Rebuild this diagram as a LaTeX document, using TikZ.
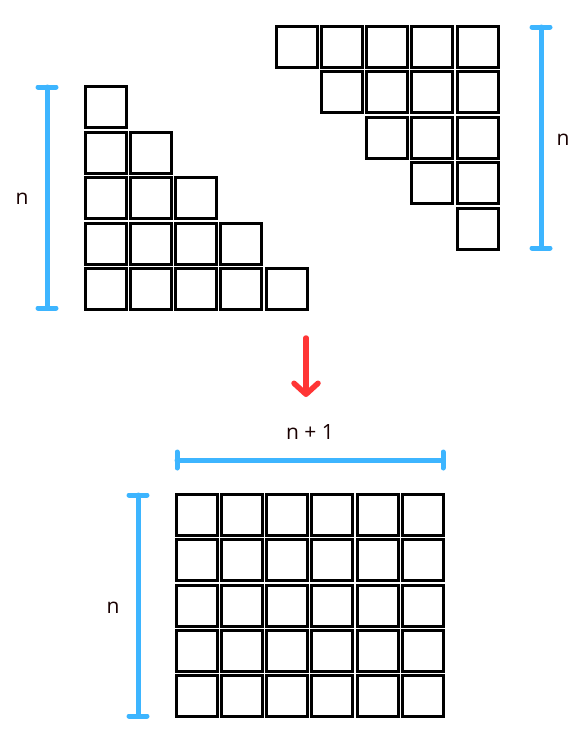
\documentclass[tikz,border=0pt]{standalone}
\usepackage{fontspec}
\setmainfont{Open Sans}
\usepackage{tikz}
\usetikzlibrary{arrows.meta}
\definecolor{BarBlue}{HTML}{3DB5FF}
\definecolor{ArrowRed}{HTML}{FF3535}
\tikzset{
  % Square styles
  cell/.style={rectangle, draw=black, line width=3pt, minimum size=41pt, inner sep=0pt, outer sep=0pt},
  % Bar styles
  dimbar/.style={BarBlue, line width=5pt, line cap=round},
  % Arrow styles
  redarrow/.style={-{Straight Barb[length=11pt, width=24pt, round]}, ArrowRed, line width=5.5pt, line cap=round},
  % Label styles
  dimlabel/.style={font=\fontsize{21}{25}\selectfont, text=black!90!red}
}
\begin{document}
\begin{tikzpicture}[x=1pt, y=-1pt]
  \useasboundingbox (0,0) rectangle (587,744);

  % left staircase
  \foreach \r in {0,...,4}
    \foreach \c in {0,...,\r}
      \node[cell] (left-\r-\c) at ({105.5+45.3*\c}, {107+45.5*\r}) {};

  % right staircase
  \foreach \r in {0,...,4}
    \foreach \c in {\r,...,4}
      \node[cell] (right-\r-\c) at ({296.5+45.3*\c}, {46.5+45.5*\r}) {};

  % rectangle of n x (n+1)
  \foreach \r in {0,...,4}
    \foreach \c in {0,...,5}
      \node[cell] (grid-\r-\c) at ({196.5+45.3*\c}, {515+45.3*\r}) {};

  % dimension bars
  \coordinate (lefttop) at (47,87);
  \coordinate (leftbot) at (47,308);
  \draw[dimbar] (lefttop) -- (leftbot);
  \draw[dimbar] ([xshift=-9pt]lefttop) -- ([xshift=9pt]lefttop);
  \draw[dimbar] ([xshift=-9pt]leftbot) -- ([xshift=9pt]leftbot);

  \coordinate (righttop) at (541,27);
  \coordinate (rightbot) at (541,248);
  \draw[dimbar] (righttop) -- (rightbot);
  \draw[dimbar] ([xshift=-9pt]righttop) -- ([xshift=9pt]righttop);
  \draw[dimbar] ([xshift=-9pt]rightbot) -- ([xshift=9pt]rightbot);

  \coordinate (widthleft) at (177,460);
  \coordinate (widthright) at (443,460);
  \draw[dimbar] (widthleft) -- (widthright);
  \draw[dimbar] ([yshift=-8pt]widthleft) -- ([yshift=8pt]widthleft);
  \draw[dimbar] ([yshift=-8pt]widthright) -- ([yshift=8pt]widthright);

  \coordinate (gridtop) at (138,495);
  \coordinate (gridbot) at (138,716);
  \draw[dimbar] (gridtop) -- (gridbot);
  \draw[dimbar] ([xshift=-9pt]gridtop) -- ([xshift=9pt]gridtop);
  \draw[dimbar] ([xshift=-9pt]gridbot) -- ([xshift=9pt]gridbot);

  % labels
  \node[dimlabel] (leftn) at (22,199) {n};
  \node[dimlabel] (rightn) at (563,140) {n};
  \node[dimlabel] (widthn) at (310,432) {n + 1};
  \node[dimlabel] (gridn) at (113,608) {n};

  % arrow
  \coordinate (arrowtop) at (306,338);
  \coordinate (arrowbot) at (306,397);
  \draw[redarrow] (arrowtop) -- (arrowbot);
\end{tikzpicture}
\end{document}
